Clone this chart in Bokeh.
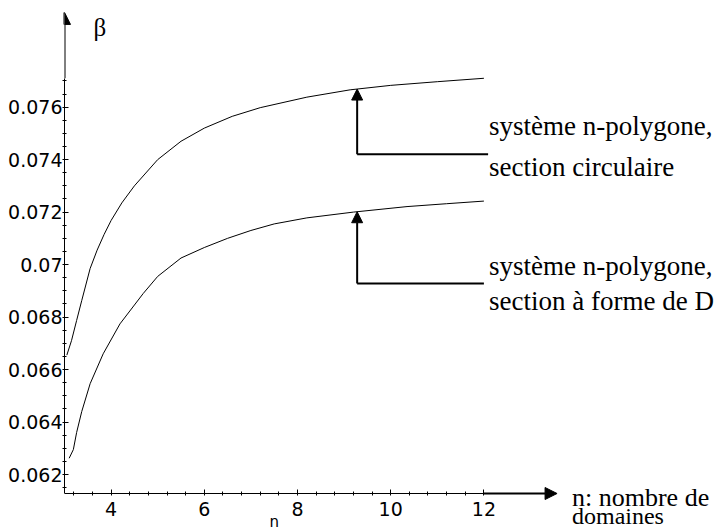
from bokeh.plotting import figure
from bokeh.models import Range1d, FixedTicker, Arrow, NormalHead, Label
from bokeh.embed import file_html
from bokeh.resources import INLINE
import numpy as np

# ---- data ----
n_circ = [3.05, 3.15, 3.26, 3.37, 3.55, 3.70, 3.85, 4.00, 4.23, 4.50, 5.00, 5.50,
          6.00, 6.60, 7.20, 8.20, 9.13, 10.00, 11.00, 12.00]
beta_circ = [0.06655, 0.06710, 0.06787, 0.06863, 0.06985, 0.07055, 0.07115, 0.07168,
             0.07235, 0.07300, 0.07400, 0.07470, 0.07520, 0.07565, 0.07598, 0.07638,
             0.07666, 0.07683, 0.07697, 0.07710]

n_D = [3.10, 3.19, 3.26, 3.37, 3.55, 3.83, 4.19, 4.69, 5.00, 5.50, 6.00, 6.50,
       7.00, 7.50, 8.20, 9.20, 10.35, 11.20, 12.00]
beta_D = [0.06262, 0.06295, 0.06360, 0.06440, 0.06546, 0.06660, 0.06774, 0.06890,
          0.06955, 0.07025, 0.07065, 0.07100, 0.07130, 0.07155, 0.07178, 0.07200,
          0.07221, 0.07232, 0.07242]

x_ticks = [4, 6, 8, 10, 12]
y_ticks = [0.062, 0.064, 0.066, 0.068, 0.07, 0.072, 0.074, 0.076]
y_tick_labels = ["0.062", "0.064", "0.066", "0.068", "0.07", "0.072", "0.074", "0.076"]

label_top = "système n-polygone,"
label_circ = "section circulaire"
label_D = "section à forme de D"
x_title = "n: nombre de"
x_title2 = "domaines"
x_axis_name = "n"
y_title = "β"

# ---- figure ----
X0, X1 = 3.0, 17.077
Y0, Y1 = 0.059866, 0.079683
Y_AXIS = 0.061276
p = figure(frame_width=656, frame_height=520,
           x_range=Range1d(X0, X1), y_range=Range1d(Y0, Y1),
           output_backend="svg", toolbar_location=None,
           min_border_left=64, min_border_right=0,
           min_border_top=10, min_border_bottom=0)
p.outline_line_color = None
p.grid.visible = False
p.background_fill_color = "white"
p.border_fill_color = "white"

x_minor = list(np.round(np.arange(3.2, 12.01, 0.4), 3))
y_minor = list(np.round(np.arange(0.0615, 0.0771, 0.0005), 5))
p.xaxis.ticker = FixedTicker(ticks=x_ticks, minor_ticks=x_minor)
p.yaxis.ticker = FixedTicker(ticks=y_ticks, minor_ticks=y_minor)
p.yaxis.major_label_overrides = {v: s for v, s in zip(y_ticks, y_tick_labels)}

p.xaxis.fixed_location = Y_AXIS
p.xaxis.bounds = (X0, max(n_circ))
p.yaxis.bounds = (Y_AXIS, 0.0771)

for ax in (p.xaxis, p.yaxis):
    ax.axis_line_color = "black"
    ax.axis_line_width = 1
    ax.major_tick_line_color = "black"
    ax.minor_tick_line_color = "black"
    ax.major_tick_in = 4
    ax.major_tick_out = 0
    ax.minor_tick_in = 2
    ax.minor_tick_out = 2
    ax.major_label_text_font = "DejaVu Sans"
    ax.major_label_text_font_size = "19px"
    ax.major_label_text_color = "black"
p.xaxis.major_label_standoff = 6
p.yaxis.major_label_standoff = 0

# curves
p.line(n_circ, beta_circ, line_color="black", line_width=1)
p.line(n_D, beta_D, line_color="black", line_width=1)

# axis arrows
p.add_layout(Arrow(end=NormalHead(size=12, fill_color="black", line_color="black"),
                   x_start=max(n_circ), y_start=Y_AXIS, x_end=13.57, y_end=Y_AXIS,
                   line_color="black", line_width=2))
p.add_layout(Arrow(end=NormalHead(size=12, fill_color="black", line_color="black"),
                   x_start=X0, y_start=0.0771, x_end=X0, y_end=0.07961,
                   line_color="black", line_width=2))

# annotation arrows pointing to curves
xa = 9.28
for curve_n, curve_b, yh, xr in ((n_circ, beta_circ, 0.07420, 12.09),
                                 (n_D, beta_D, 0.06928, 12.0)):
    tip = float(np.interp(xa, curve_n, curve_b))
    p.add_layout(Arrow(end=NormalHead(size=11, fill_color="black", line_color="black"),
                       x_start=xa, y_start=yh, x_end=xa, y_end=tip,
                       line_color="black", line_width=2))
    p.line([xa, xr], [yh, yh], line_color="black", line_width=2)

serif = "Liberation Serif"
def lab(x, y, t, size="27px", font=serif, align="left"):
    p.add_layout(Label(x=x, y=y, text=t, text_font=font, text_font_size=size,
                       text_color="black", text_align=align, text_baseline="middle"))

lab(12.11, 0.07530, label_top)
lab(12.11, 0.07370, label_circ)
lab(12.11, 0.06993, label_top)
lab(12.11, 0.06863, label_D)
lab(13.89, 0.061123, x_title, size="26px")
lab(13.89, 0.060437, x_title2, size="24px")
lab(3.76, 0.07903, y_title, size="25px", align="center")
lab(7.5, 0.060171, x_axis_name, size="15px", font="DejaVu Sans", align="center")

open("out.html", "w").write(file_html(p, INLINE))
